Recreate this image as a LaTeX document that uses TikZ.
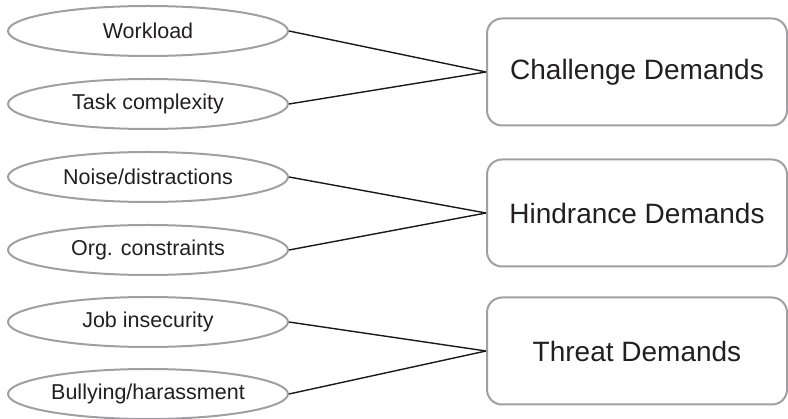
\documentclass[tikz,border=0pt]{standalone}
\usepackage{fontspec}
\setmainfont{Liberation Sans}
\usetikzlibrary{shapes.geometric}
\definecolor{edgegray}{HTML}{A0A0A2}
\definecolor{txt}{HTML}{231F20}
\tikzset{
  factor/.style={ellipse, draw=edgegray, line width=2pt, minimum width=280pt, minimum height=50pt, inner sep=0pt, text=txt, font=\fontsize{21.5}{24}\selectfont},
  demand/.style={rectangle, rounded corners=15pt, draw=edgegray, line width=2pt, minimum width=300pt, minimum height=107pt, inner sep=0pt, text=txt, font=\fontsize{28}{32}\selectfont},
  link/.style={draw=black!90, line width=1.4pt}
}
\begin{document}
\begin{tikzpicture}[x=1pt,y=-1pt]
\useasboundingbox (0,0) rectangle (788,419);
\node[factor] (e1) at (148,31) {Workload};
\node[factor] (e2) at (148,104) {Task complexity};
\node[factor] (e3) at (148,177) {Noise/distractions};
\node[factor] (e4) at (148,250) {Org. constraints};
\node[factor] (e5) at (148,322) {Job insecurity};
\node[factor] (e6) at (148,394) {Bullying/harassment};
\node[demand] (b1) at (637,72) {Challenge Demands};
\node[demand] (b2) at (637,213) {Hindrance Demands};
\node[demand] (b3) at (637,351) {Threat Demands};
\draw[link] (e1.east) -- (b1.west);
\draw[link] (e2.east) -- (b1.west);
\draw[link] (e3.east) -- (b2.west);
\draw[link] (e4.east) -- (b2.west);
\draw[link] (e5.east) -- (b3.west);
\draw[link] (e6.east) -- (b3.west);
\end{tikzpicture}
\end{document}
